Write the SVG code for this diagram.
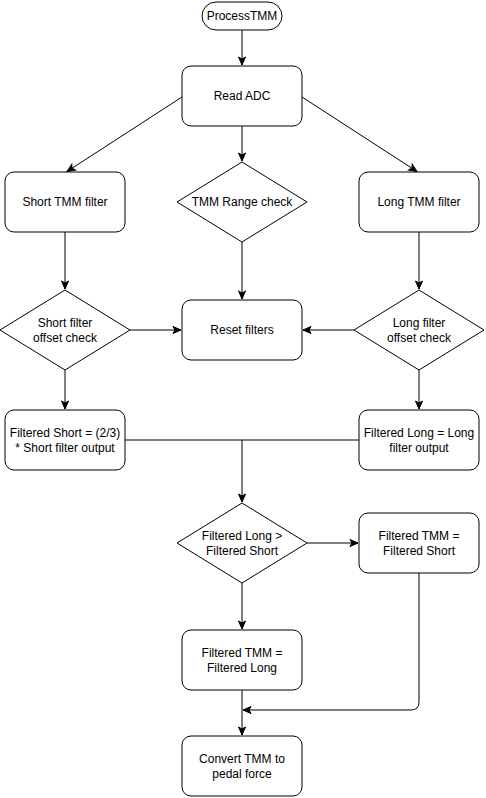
<svg xmlns="http://www.w3.org/2000/svg" width="486" height="798" viewBox="0 0 486 798">
<style>
.n{fill:#fff;stroke:#000;stroke-width:1}
.t{font-family:"Liberation Sans",Arial,sans-serif;font-size:12px;fill:#000;text-anchor:middle}
.c{fill:none;stroke:#000;stroke-width:1}
</style>
<defs>
<marker id="a" markerUnits="userSpaceOnUse" markerWidth="10" markerHeight="10" viewBox="0 0 10 10" refX="9" refY="5" orient="auto">
<path d="M1,1.5 L9,5 L1,8.5 L3,5 Z" fill="#000" stroke="#000" stroke-width="1"/>
</marker>
</defs>
<rect width="486" height="798" fill="#fff"/>
<g id="connectors">
<path class="c" d="M242,30 V65" marker-end="url(#a)"/>
<path class="c" d="M182,97 L67,171.5" marker-end="url(#a)"/>
<path class="c" d="M302,97 L417,171.5" marker-end="url(#a)"/>
<path class="c" d="M242,126 V161" marker-end="url(#a)"/>
<path class="c" d="M65,232 V289" marker-end="url(#a)"/>
<path class="c" d="M242,242 V299" marker-end="url(#a)"/>
<path class="c" d="M419,232 V289" marker-end="url(#a)"/>
<path class="c" d="M130,330 H181" marker-end="url(#a)"/>
<path class="c" d="M354,330 H303" marker-end="url(#a)"/>
<path class="c" d="M65,370 V409" marker-end="url(#a)"/>
<path class="c" d="M419,370 V409" marker-end="url(#a)"/>
<path class="c" d="M125,440 H242 V502" marker-end="url(#a)"/>
<path class="c" d="M359,440 H242"/>
<path class="c" d="M307,543 H358" marker-end="url(#a)"/>
<path class="c" d="M242,583 V629" marker-end="url(#a)"/>
<path class="c" d="M242,690 V735" marker-end="url(#a)"/>
<path class="c" d="M419,573 V702 Q419,710 411,710 H243" marker-end="url(#a)"/>
</g>
<g id="processTMM">
<rect class="n" x="202" y="2" width="80" height="28" rx="14" ry="14"/>
<text class="t" x="242" y="20">ProcessTMM</text>
</g>
<g id="readADC">
<rect class="n" x="182" y="66" width="120" height="60" rx="9" ry="9"/>
<text class="t" x="242" y="100">Read ADC</text>
</g>
<g id="shortTMMFilter">
<rect class="n" x="5" y="172" width="120" height="60" rx="9" ry="9"/>
<text class="t" x="65" y="206">Short TMM filter</text>
</g>
<g id="tmmRangeCheck">
<path class="n" d="M242,162 L307,202 L242,242 L177,202 Z"/>
<text class="t" x="242" y="206">TMM Range check</text>
</g>
<g id="longTMMFilter">
<rect class="n" x="359" y="172" width="120" height="60" rx="9" ry="9"/>
<text class="t" x="419" y="206">Long TMM filter</text>
</g>
<g id="shortOffsetCheck">
<path class="n" d="M65,290 L130,330 L65,370 L0,330 Z"/>
<text class="t" x="65" y="327">Short filter</text>
<text class="t" x="65" y="341.5">offset check</text>
</g>
<g id="resetFilters">
<rect class="n" x="182" y="300" width="120" height="60" rx="9" ry="9"/>
<text class="t" x="242" y="334">Reset filters</text>
</g>
<g id="longOffsetCheck">
<path class="n" d="M419,290 L484,330 L419,370 L354,330 Z"/>
<text class="t" x="419" y="327">Long filter</text>
<text class="t" x="419" y="341.5">offset check</text>
</g>
<g id="filteredShort">
<rect class="n" x="5" y="410" width="120" height="60" rx="9" ry="9"/>
<text class="t" x="65" y="437">Filtered Short = (2/3)</text>
<text class="t" x="65" y="452">* Short filter output</text>
</g>
<g id="filteredLong">
<rect class="n" x="359" y="410" width="120" height="60" rx="9" ry="9"/>
<text class="t" x="419" y="437">Filtered Long = Long</text>
<text class="t" x="419" y="452">filter output</text>
</g>
<g id="compare">
<path class="n" d="M242,503 L307,543 L242,583 L177,543 Z"/>
<text class="t" x="242" y="540">Filtered Long &gt;</text>
<text class="t" x="242" y="555">Filtered Short</text>
</g>
<g id="tmmShort">
<rect class="n" x="359" y="513" width="120" height="60" rx="9" ry="9"/>
<text class="t" x="419" y="540">Filtered TMM =</text>
<text class="t" x="419" y="555">Filtered Short</text>
</g>
<g id="tmmLong">
<rect class="n" x="182" y="630" width="120" height="60" rx="9" ry="9"/>
<text class="t" x="242" y="657">Filtered TMM =</text>
<text class="t" x="242" y="672">Filtered Long</text>
</g>
<g id="convert">
<rect class="n" x="182" y="736" width="120" height="60" rx="9" ry="9"/>
<text class="t" x="242" y="763">Convert TMM to</text>
<text class="t" x="242" y="778">pedal force</text>
</g>
</svg>
